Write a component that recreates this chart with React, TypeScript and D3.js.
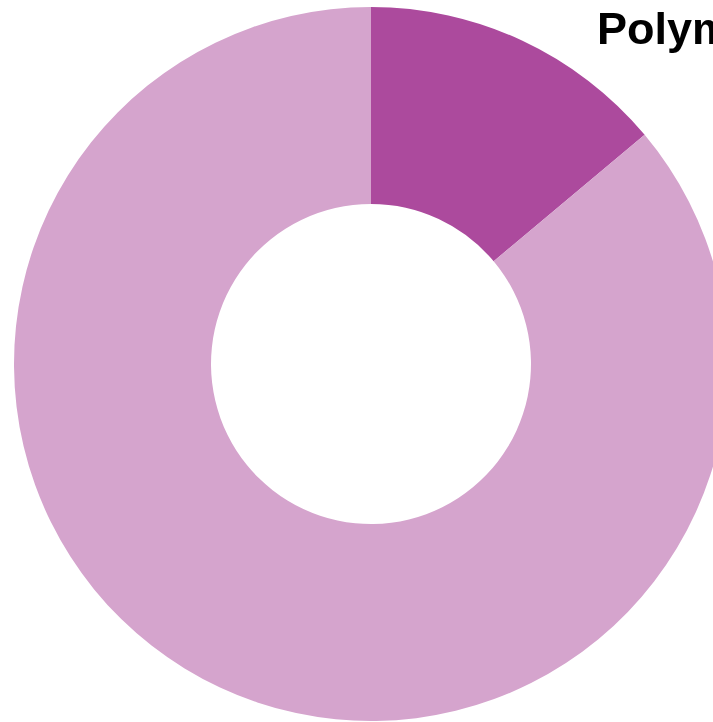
import React, { useEffect, useRef } from 'react'
import * as d3 from 'd3'

const labels = ['Polymer A', 'Other']
const values = [13.9, 86.1]
const colors = ['#AC4A9D', '#D5A4CD']
const title = 'Polymer'

const App = () => {
  const svgRef = useRef<SVGSVGElement>(null)

  useEffect(() => {
    const width = 713
    const height = 722
    const cx = 371
    const cy = 364
    const outer = 357
    const inner = 160

    const svg = d3.select(svgRef.current).attr('width', width).attr('height', height)
    svg.selectAll('*').remove()

    const g = svg.append('g').attr('transform', `translate(${cx}, ${cy})`)

    const color = d3.scaleOrdinal<string>().domain(labels).range(colors)
    const pie = d3
      .pie<number>()
      .sort(null)
      .value((d) => d)
    const arc = d3.arc<d3.PieArcDatum<number>>().innerRadius(inner).outerRadius(outer)

    g.selectAll('path')
      .data(pie(values))
      .enter()
      .append('path')
      .attr('d', arc)
      .attr('fill', (d, i) => color(labels[i]))

    // titel, rechts afgesneden zoals in het origineel
    svg
      .append('text')
      .attr('x', 597)
      .attr('y', 44)
      .text(title)
      .style('font-family', 'Liberation Sans, Arial, sans-serif')
      .style('font-weight', 'bold')
      .style('font-size', '45px')
  }, [])

  return (
    <div style={{ position: 'fixed', left: 0, top: 0 }}>
      <svg ref={svgRef} style={{ display: 'block' }}></svg>
    </div>
  )
}

export default App
